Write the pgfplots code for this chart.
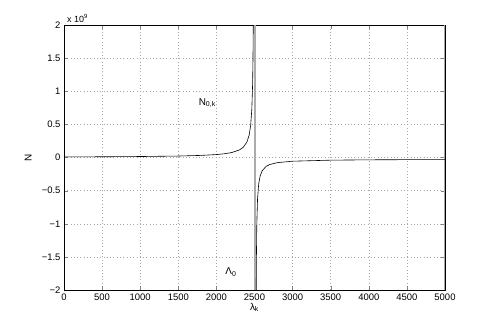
\documentclass[border=0pt]{standalone}
\usepackage{fontspec}
\setmainfont{Liberation Sans}
\usepackage{pgfplots}
\pgfplotsset{compat=1.18}

\begin{document}
\begin{tikzpicture}[x=1bp,y=1bp]
\useasboundingbox (-64bp,-37bp) rectangle (427bp,290bp);
\begin{axis}[
    at={(0,0)}, anchor=south west,
    scale only axis,
    width=381bp, height=265bp,
    xmin=0, xmax=5000,
    ymin=-2, ymax=2,
    xtick={0,500,...,5000},
    ytick={-2,-1.5,-1,-0.5,0,0.5,1,1.5,2},
    yticklabels={−2,−1.5,−1,−0.5,0,0.5,1,1.5,2},
    scaled x ticks=false,
    /pgf/number format/assume math mode=true,
    /pgf/number format/1000 sep={},
    tick label style={font=\fontsize{9.5}{11}\selectfont, black},
    tick align=inside,
    major tick length=4bp,
    xtick pos=both, ytick pos=both,
    axis line style={line width=0.6pt},
    grid=major,
    major grid style={gray!70, dash pattern=on 0.7bp off 2.6bp, line width=0.5pt},
    xlabel={λ\textsubscript{k}},
    xlabel style={font=\fontsize{10}{12}\selectfont, yshift=4bp},
    clip mode=individual,
]
% asymptote (gray band)
\addplot[gray!65, line width=1.6pt] coordinates {(2507,-2) (2507,2)};
% right frame edge drawn gray
\addplot[gray!70, line width=1.2pt] coordinates {(4996,-2) (4996,2)};
% left branch
\addplot[black, line width=0.6pt] coordinates {
    (0,0.0088) (500,0.0110) (1000,0.0147) (1500,0.0221) (1800,0.0317)
    (2000,0.0444) (2100,0.0557) (2200,0.0746) (2300,0.1128) (2350,0.1517)
    (2400,0.2316) (2430,0.3385) (2450,0.4889) (2465,0.7333) (2475,1.1)
    (2480,1.4667) (2484,2.0) (2486,2.44)
};
% right branch
\addplot[black, line width=0.6pt] coordinates {
    (2522,-2.168) (2525,-1.525) (2530,-1.025) (2540,-0.625) (2555,-0.4)
    (2575,-0.275) (2600,-0.2015) (2650,-0.136) (2700,-0.106) (2800,-0.0776)
    (3000,-0.0559) (3500,-0.0402) (4000,-0.0351) (4500,-0.0326) (5000,-0.031)
};
\node[font=\fontsize{10}{12}\selectfont] at (axis cs:1880,0.82) {N\textsubscript{0,k}};
\node[font=\fontsize{10}{12}\selectfont] at (axis cs:2190,-1.73) {Λ\textsubscript{0}};
\node[anchor=south west, font=\fontsize{9}{11}\selectfont, inner sep=0pt] at (axis cs:40,2.03) {x 10\textsuperscript{9}};
\node[rotate=90, font=\fontsize{10}{12}\selectfont] at (axis cs:-470,0) {N};
\end{axis}
\end{tikzpicture}
\end{document}
